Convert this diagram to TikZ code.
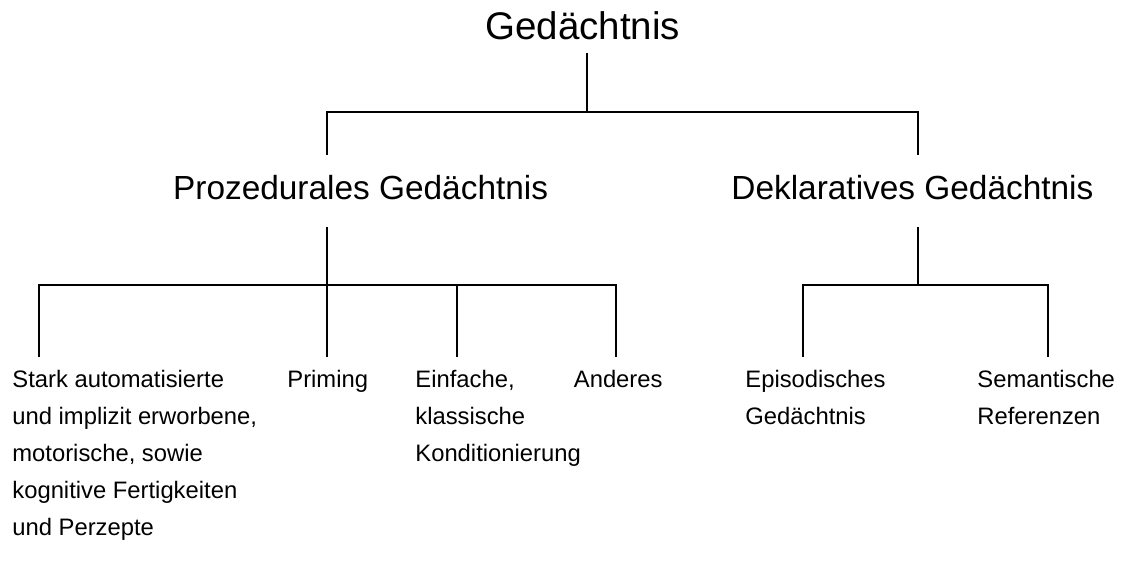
\documentclass[tikz,border=0pt]{standalone}
\usepackage{fontspec}
\setmainfont{Liberation Sans}
\usetikzlibrary{calc}

\begin{document}
\begin{tikzpicture}[x=0.5pt, y=-0.5pt,
  top/.style={font=\fontsize{19.25}{23}\selectfont, inner sep=0pt, anchor=base west},
  mid/.style={font=\fontsize{16.7}{20}\selectfont, inner sep=0pt, anchor=base west},
  leaf/.style={font=\fontsize{11.9}{18.5}\selectfont, inner sep=0pt, anchor=base west, align=left},
  branch/.style={line width=1pt}]
\useasboundingbox (0,0) rectangle (1124,564);
% labels (multi-line leaves sit on their last line)
\node[top] (gedaechtnis) at (485,39.5) {Gedächtnis};
\node[mid] (prozedural) at (172.7,199) {Prozedurales Gedächtnis};
\node[mid] (deklarativ) at (731,199) {Deklaratives Gedächtnis};
\node[leaf] (fertigkeiten) at (12,535) {Stark automatisierte\\und implizit erworbene,\\motorische, sowie\\kognitive Fertigkeiten\\und Perzepte};
\node[leaf] (priming) at (287,387) {Priming};
\node[leaf] (konditionierung) at (415,461) {Einfache,\\klassische\\Konditionierung};
\node[leaf] (anderes) at (573.5,387) {Anderes};
\node[leaf] (episodisch) at (745,424) {Episodisches\\Gedächtnis};
\node[leaf] (semantisch) at (977,424) {Semantische\\Referenzen};
% junctions
\coordinate (g-stem) at (586.7,53);
\coordinate (g-fork) at (586.7,112);
\coordinate (p-top) at (326.7,155);
\coordinate (d-top) at (917.7,155);
\coordinate (p-stem) at (326.7,227);
\coordinate (p-fork) at (326.7,285);
\coordinate (d-stem) at (918,227);
\coordinate (d-fork) at (918,285);
\coordinate (l-fertig) at (39.3,357);
\coordinate (l-priming) at (326.7,357);
\coordinate (l-kond) at (457.3,357);
\coordinate (l-anderes) at (615.7,357);
\coordinate (l-episod) at (802.7,357);
\coordinate (l-semant) at (1048.3,357);
% tree
\draw[branch] (g-stem) -- (g-fork);
\draw[branch] (p-top) |- (g-fork) -| (d-top);
\draw[branch] (p-stem) -- (p-fork);
\draw[branch] (l-fertig) |- (p-fork) -| (l-anderes);
\draw[branch] (p-fork) -- (l-priming);
\draw[branch] (l-kond |- p-fork) -- (l-kond);
\draw[branch] (d-stem) -- (d-fork);
\draw[branch] (l-episod) |- (d-fork) -| (l-semant);
\end{tikzpicture}
\end{document}
